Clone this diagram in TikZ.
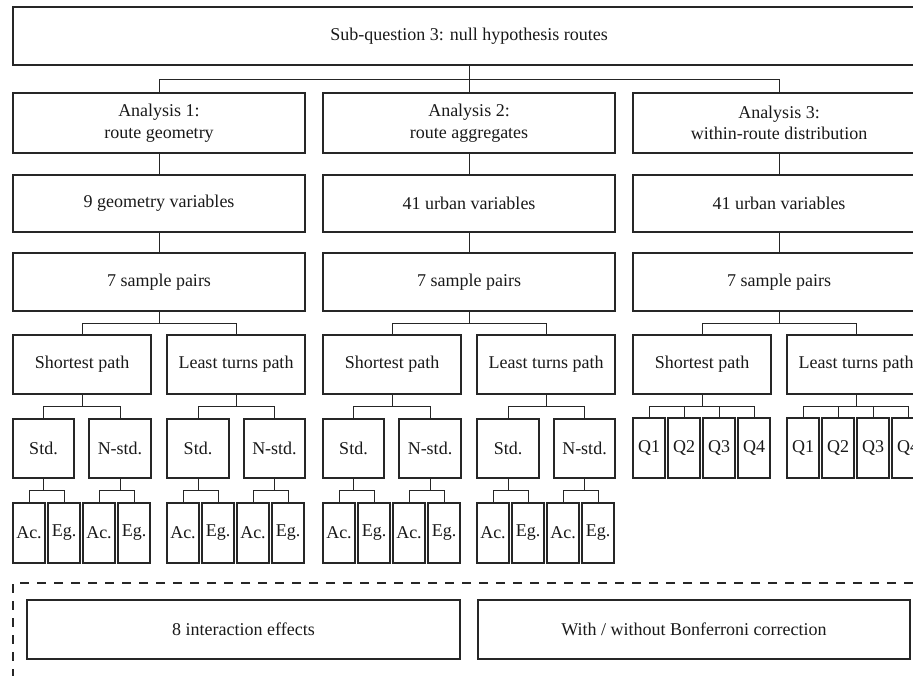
\documentclass[tikz,border=0pt]{standalone}
\usepackage{fontspec}
\setmainfont{Liberation Serif}
\usetikzlibrary{calc}
\newcommand{\tfork}[3]{%
  \coordinate (fkc) at (#1.south |- #2.north);
  \coordinate (fk) at ($(#1.south)!0.5!(fkc)$);
  \foreach \c in {#3} {\draw[conn] (\c.north) |- (fk);}
  \draw[conn] (#1.south) -- (fk);
}
\begin{document}
\begin{tikzpicture}[x=1pt,y=-1pt,
  box/.style={draw=black!85, line width=1.9pt, inner sep=0pt, align=center,
    font=\fontsize{18}{21.6}\selectfont, text=black!90},
  conn/.style={draw=black!85, line width=1pt},
  frame/.style={draw=black!85, line width=2pt, dash pattern=on 9pt off 8pt, inner sep=0pt}]
\useasboundingbox (0,0) rectangle (913,675);
\clip (0,0) rectangle (913,675);

\node[box, minimum width=912, minimum height=58] (top) at (469,36) {Sub-question 3: null hypothesis routes};

\foreach \k/\o/\ta/\tv in {1/0/{Analysis 1:\\route geometry}/{9 geometry variables},
                           2/310/{Analysis 2:\\route aggregates}/{41 urban variables},
                           3/620/{Analysis 3:\\within-route distribution}/{41 urban variables}} {
  \node[box, minimum width=292, minimum height=60] (a\k) at (159+\o,123) {\ta};
  \node[box, minimum width=292, minimum height=57] (v\k) at (159+\o,203.5) {\tv};
  \node[box, minimum width=292, minimum height=58] (s\k) at (159+\o,282) {7 sample pairs};
  \node[box, minimum width=138, minimum height=59] (sp\k) at (82+\o,364.5) {Shortest path};
  \node[box, minimum width=138, minimum height=59] (lt\k) at (236+\o,364.5) {Least turns path};
  \draw[conn] (a\k) -- (v\k);
  \draw[conn] (v\k) -- (s\k);
  \tfork{s\k}{sp\k}{sp\k,lt\k}
}
\tfork{top}{a1}{a1,a2,a3}

% Analyses 1 and 2: Std / N-std and Ac. / Eg.
\foreach \k/\o in {1/0,2/310} {
  \foreach \j/\mx/\mw/\lx/\lab in {1/43.5/61/29/Std., 2/120/62/99/N-std., 3/198/62/183/Std., 4/274.5/61/253/N-std.} {
    \node[box, minimum width=\mw, minimum height=59] (m\k\j) at (\mx+\o,448.5) {\lab};
    \node[box, minimum width=32, minimum height=60] (l\k\j a) at (\lx+\o,533) {Ac.};
    \node[box, minimum width=32, minimum height=60] (l\k\j b) at (\lx+35+\o,533) {Eg.};
    \tfork{m\k\j}{l\k\j a}{l\k\j a,l\k\j b}
  }
  \tfork{sp\k}{m\k1}{m\k1,m\k2}
  \tfork{lt\k}{m\k3}{m\k3,m\k4}
}

% Analysis 3: quartiles
\foreach \g/\gx in {sp/29,lt/183} {
  \foreach \q in {1,2,3,4} {
    \node[box, minimum width=32, minimum height=60] (q\g\q) at (\gx+620+35*\q-35,448) {Q\q};
  }
  \tfork{\g3}{q\g1}{q\g1,q\g2,q\g3,q\g4}
}

% bottom group
\node[frame, minimum width=927, minimum height=117] (grp) at (476.5,641.5) {};
\node[box, minimum width=433, minimum height=59] (ie) at (243.5,629.5) {8 interaction effects};
\node[box, minimum width=432, minimum height=59] (bc) at (694,629.5) {With / without Bonferroni correction};
\end{tikzpicture}
\end{document}
